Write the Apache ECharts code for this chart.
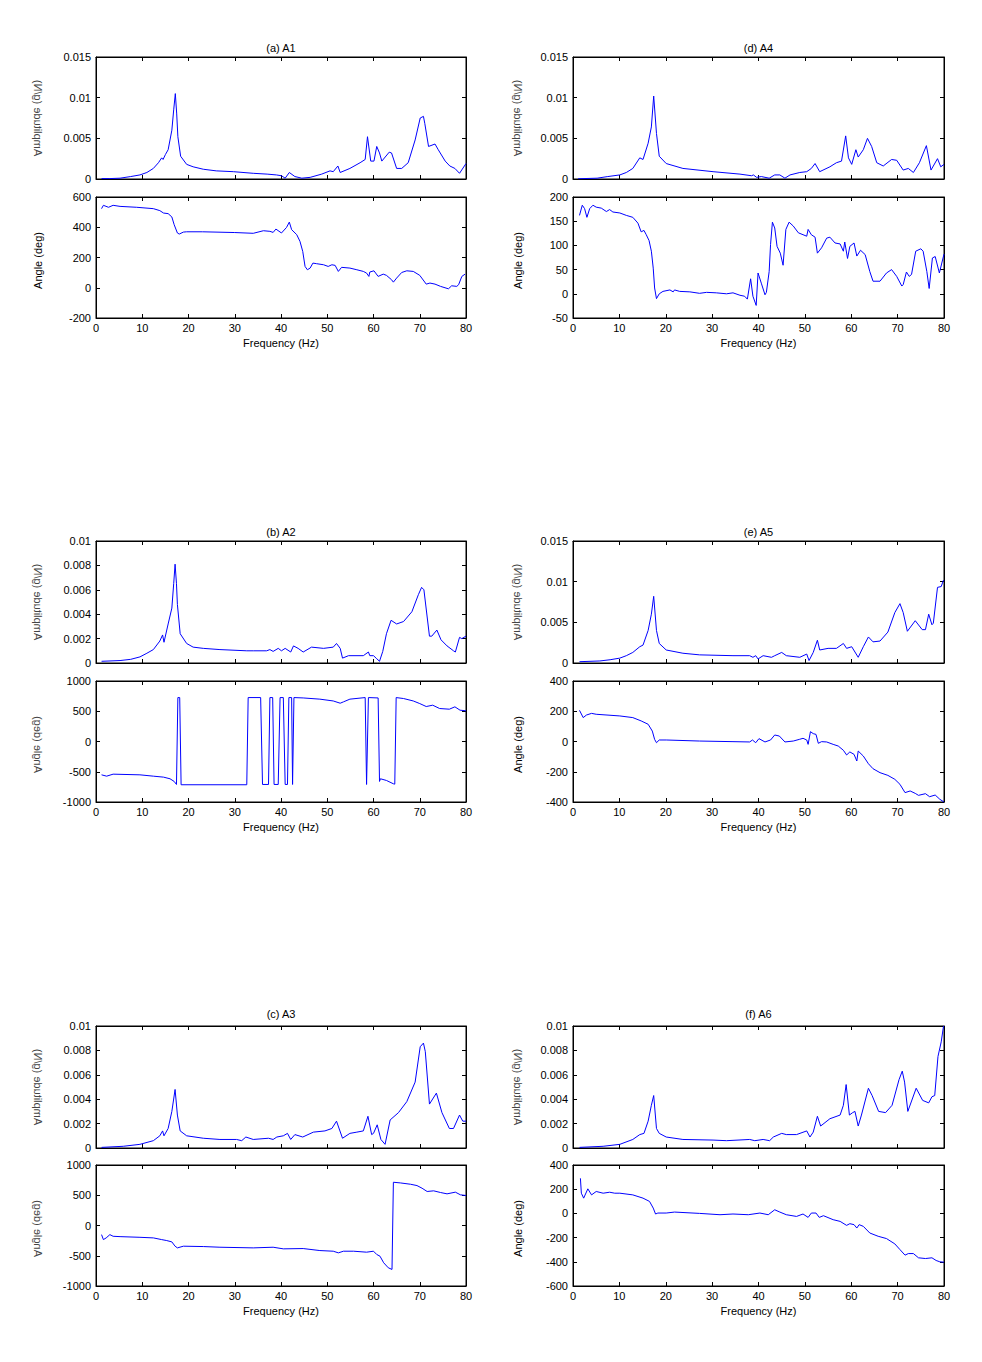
<!DOCTYPE html>
<html><head><meta charset="utf-8">
<script src="https://cdn.jsdelivr.net/npm/echarts@6/dist/echarts.min.js"></script>
<style>html,body{margin:0;padding:0;background:#fff}#c{width:982px;height:1362px}</style>
</head><body><div id="c"></div>
<script>
// ---------- data (frequency Hz, value) ----------
const freqTicks = [0, 80, 10];
const titles = ['(a) A1', '(d) A4', '(b) A2', '(e) A5', '(c) A3', '(f) A6'];
const ampTicks = [[0, 0.015, 0.005], [0, 0.015, 0.005], [0, 0.01, 0.002], [0, 0.015, 0.005], [0, 0.01, 0.002], [0, 0.01, 0.002]];
const angTicks = [[-200, 600, 200], [-50, 200, 50], [-1000, 1000, 500], [-400, 400, 200], [-1000, 1000, 500], [-600, 400, 200]];

const a1Amp = [[1.2,0.00005],[3,0.00005],[5.2,0.0001],[7.5,0.0003],[9.5,0.0005],[11,0.0008],[12.4,0.0013],[13.5,0.002],[14.2,0.0026],[14.5,0.0024],[15,0.003],[15.6,0.0036],[16.4,0.006],[16.8,0.0085],[17.15,0.0105],[17.45,0.008],[17.7,0.0052],[18.3,0.0028],[19.6,0.0018],[21,0.0015],[23.2,0.0012],[26,0.001],[29.7,0.0009],[34,0.0007],[37,0.0006],[39,0.0005],[40.1,0.0004],[40.9,0.0001],[41.8,0.0008],[43,0.0003],[44.5,0.0001],[46.3,0.0002],[48.8,0.0006],[50.6,0.001],[51.3,0.0009],[52.3,0.0016],[52.8,0.0008],[54.9,0.0013],[57.1,0.002],[58.2,0.0024],[58.7,0.0052],[59.4,0.0022],[60.1,0.0022],[60.7,0.004],[61.3,0.0032],[61.8,0.0022],[63.4,0.0033],[63.9,0.0032],[65,0.0013],[66.1,0.0013],[67.5,0.002],[69,0.0048],[70.1,0.0075],[70.8,0.0077],[71.1,0.0068],[71.9,0.004],[73.3,0.0043],[74,0.0036],[75.5,0.0022],[76.5,0.0016],[77.6,0.0013],[78.6,0.0007],[80,0.0019]];
const a1Ang = [[1.2,523],[1.6,545],[2.7,532],[3.7,545],[5.2,538],[8.8,532],[12.4,523],[13.8,510],[14.6,494],[15.6,490],[16.4,468],[16.9,417],[17.6,362],[18,355],[18.9,368],[19.6,370],[23,370],[30,365],[34,360],[36.2,377],[37.6,373],[38.3,366],[38.9,388],[40.1,362],[41.2,399],[41.8,434],[42.3,384],[43.4,351],[44.1,307],[44.7,240],[45.2,141],[45.7,119],[46.3,130],[46.9,163],[47.7,159],[49.2,152],[50.2,141],[51,152],[51.7,148],[52.4,108],[53.1,135],[54.9,130],[56.4,119],[57.8,108],[58.5,97],[59,75],[59.2,104],[60.1,112],[61,75],[62.1,90],[62.8,82],[63.9,53],[64.3,37],[65,64],[66.1,101],[67.2,112],[68.6,108],[70,82],[71.4,24],[72.2,31],[73.3,24],[74.5,9],[76.2,-7],[76.9,13],[78,9],[78.4,20],[79.1,75],[79.8,90]];

const a4Amp = [[1.1,0.00003],[5.2,0.0001],[7.5,0.0003],[10.1,0.0005],[11.5,0.0008],[12.9,0.0013],[14.4,0.0026],[15.1,0.0024],[16.2,0.0044],[16.9,0.0064],[17.4,0.0102],[18,0.0056],[18.6,0.0028],[20.1,0.0019],[23.7,0.0013],[30.2,0.0009],[36,0.0006],[38.5,0.0004],[38.9,0.0005],[39.6,0.0002],[40.6,0.0003],[42.3,0.0001],[43.5,0.0005],[44.6,0.0005],[45.7,0.0001],[46.8,0.0005],[48.9,0.0008],[50.4,0.0009],[51.4,0.0013],[52.2,0.0019],[53.2,0.0009],[55.4,0.0015],[56.8,0.002],[57.9,0.0022],[58.8,0.0053],[59.4,0.0026],[60.1,0.0018],[61,0.0036],[61.5,0.0027],[62.6,0.0036],[63.5,0.005],[64.4,0.004],[65.5,0.002],[66.9,0.0016],[68.7,0.0024],[69.8,0.0023],[71.2,0.0011],[72.3,0.0013],[73.4,0.0008],[74.7,0.002],[76.2,0.0041],[77.2,0.0011],[78.6,0.0025],[79.3,0.0015],[80,0.0018]];
const a4Ang = [[1.4,162],[2,183],[2.5,176],[3,158],[3.6,176],[4.3,183],[5,179],[6.1,177],[7.2,170],[7.9,174],[8.6,169],[10.1,167],[11.5,162],[12.9,158],[14,146],[14.7,128],[15.3,131],[15.8,122],[16.4,110],[16.9,88],[17.3,53],[17.6,12],[18,-10],[18.6,0],[19.4,5],[20.9,8],[21.6,4],[21.9,8],[23,5],[25.2,4],[27.3,1],[28.8,3],[30.9,2],[33.1,0],[34.5,2],[36,-3],[37,-5],[37.6,-11],[38.3,31],[38.8,-5],[39.5,-24],[39.9,43],[40.6,22],[41.4,-2],[41.7,3],[42.3,46],[42.6,102],[43,148],[43.5,136],[44,98],[44.7,84],[45.3,59],[45.9,133],[46.6,148],[47.5,140],[48.6,126],[50.4,119],[50.7,133],[51.4,122],[52.2,117],[52.7,84],[53.6,95],[54.7,115],[55.4,117],[56.5,105],[57.6,103],[58.3,88],[58.6,107],[59.2,73],[59.7,98],[60.6,105],[61.2,78],[62,90],[63,81],[64,46],[64.7,26],[66.2,26],[67.6,43],[68.7,50],[69.8,36],[70.9,16],[71.2,19],[71.9,45],[72.5,36],[73,40],[73.9,88],[75,93],[75.5,88],[76.3,46],[76.8,11],[77.5,74],[78.1,77],[79,43],[80,82]];

const a2Amp = [[1.2,0.00014],[5.2,0.0002],[7.5,0.0003],[9.5,0.0005],[11,0.0008],[12.4,0.0011],[13.8,0.0018],[14.4,0.0023],[14.7,0.0017],[15.6,0.0032],[16.4,0.0045],[16.8,0.0065],[17.1,0.0081],[17.4,0.0065],[17.6,0.0048],[18.2,0.0024],[19.6,0.0016],[21,0.0013],[23.2,0.0012],[26.8,0.0011],[32.6,0.001],[34,0.001],[36.9,0.001],[37.6,0.0011],[38.3,0.00095],[39.4,0.0012],[40.1,0.001],[40.9,0.0012],[42.1,0.0009],[42.7,0.0014],[43.7,0.0012],[44.8,0.0009],[46.6,0.0013],[49.2,0.0012],[51.3,0.0013],[52,0.0016],[52.8,0.0012],[53.3,0.0004],[54.6,0.0006],[57.8,0.0006],[58.9,0.0009],[59.2,0.0006],[60,0.0006],[60.7,0.00035],[61.3,0.00014],[62,0.00095],[62.8,0.0024],[63.8,0.0035],[65,0.0032],[66.5,0.0034],[68.3,0.0042],[69.7,0.0056],[70.4,0.0062],[70.9,0.006],[72.1,0.0022],[72.6,0.0022],[73.7,0.0027],[74.6,0.0019],[75.9,0.0014],[77.3,0.001],[77.7,0.0009],[78.6,0.0021],[79.1,0.002],[80,0.0022]];
const a2Ang = [[1.2,-551],[2.3,-573],[3.7,-540],[9.5,-551],[12.4,-573],[14.6,-589],[16,-616],[16.9,-660],[17.4,-710],[17.7,726],[18.1,726],[18.4,-715],[32.6,-715],[32.9,726],[35.6,726],[36,-710],[37.3,-710],[37.6,726],[38.2,726],[38.5,-710],[39.4,-710],[39.8,726],[40.5,726],[40.9,-710],[41.4,-710],[41.7,726],[42.3,726],[42.5,-710],[42.8,726],[44.8,720],[48.4,700],[51.3,670],[52.8,633],[53.5,655],[54.9,700],[58.2,726],[58.5,-710],[58.9,726],[61,720],[61.3,-660],[61.5,-616],[62.8,-644],[64.3,-699],[64.6,-705],[64.9,726],[66.5,710],[68.6,670],[70,627],[71.4,578],[72.8,600],[74.3,545],[76.4,534],[77.6,573],[78.7,518],[80,507]];

const a5Amp = [[1.4,0.00016],[5.8,0.00025],[8,0.0004],[10.1,0.0006],[11.5,0.0009],[12.9,0.0013],[14.4,0.002],[15.1,0.0022],[16.2,0.004],[16.9,0.006],[17.4,0.0082],[18,0.004],[18.6,0.0024],[20.1,0.0016],[23.7,0.0012],[27.3,0.001],[34.5,0.0009],[38.1,0.0009],[38.8,0.0007],[39.4,0.0009],[39.9,0.0005],[41,0.0009],[42.8,0.0007],[43.5,0.0009],[45,0.0013],[46,0.0009],[48.9,0.0007],[50.4,0.0011],[50.9,0.0003],[51.8,0.0013],[52.7,0.0028],[53.2,0.0016],[55,0.0018],[56.8,0.0018],[58.3,0.0024],[59,0.0018],[60.1,0.002],[61.5,0.0007],[62.6,0.002],[63.7,0.0032],[64.7,0.0026],[66.2,0.0027],[67.9,0.0038],[69.4,0.0062],[70.5,0.0073],[71.2,0.0062],[72.1,0.0039],[73.8,0.0052],[75.3,0.0041],[76,0.0041],[76.7,0.006],[77.4,0.0047],[77.7,0.0049],[78.6,0.0093],[79.4,0.0094],[79.9,0.0102]];
const a5Ang = [[1.4,206],[2.2,158],[2.9,175],[4,186],[5,180],[10.1,169],[12.9,158],[14.7,136],[16.2,114],[17.1,69],[17.6,14],[18,-8],[18.6,10],[20.1,10],[27.3,3],[34.5,-1],[38.1,-3],[38.7,10],[39.4,-8],[40.1,19],[41.4,-3],[42.6,10],[43.5,43],[44.5,36],[45.7,-3],[47.5,3],[48.8,14],[49.6,21],[50.4,10],[50.7,-19],[51.2,65],[51.8,52],[52.4,47],[52.9,-12],[53.6,-1],[54.7,-3],[56.1,-19],[57.2,-30],[58.3,-58],[59,-89],[59.7,-69],[60.6,-85],[61.2,-129],[61.5,-63],[62.6,-96],[63.7,-147],[64.7,-180],[66.2,-206],[67.9,-224],[69.4,-250],[70.5,-283],[71.6,-338],[72.7,-327],[73.8,-343],[74.5,-356],[76,-345],[76.9,-365],[78.1,-354],[79.1,-382],[80,-400]];

const a3Amp = [[1.2,0.00005],[5.9,0.00014],[9.5,0.0003],[12.4,0.0006],[13.8,0.001],[14.4,0.0014],[14.7,0.001],[15.6,0.0016],[16.4,0.003],[17.1,0.0048],[17.6,0.0027],[18.2,0.0014],[19.6,0.001],[23.2,0.0008],[26.8,0.0007],[30.4,0.0007],[31.5,0.0006],[32.4,0.0009],[34,0.0007],[37.3,0.0008],[38.3,0.0007],[39.1,0.0009],[40.5,0.001],[41.4,0.0012],[42.1,0.0007],[43,0.0011],[44.7,0.0009],[47,0.0013],[49.5,0.0014],[51,0.0016],[52,0.0022],[53.3,0.0008],[54.9,0.0012],[56.4,0.0013],[57.8,0.0014],[58.8,0.0026],[59.6,0.0011],[60,0.0012],[60.8,0.0019],[61.6,0.0007],[62.5,0.0003],[63.6,0.0023],[65.4,0.0029],[67.2,0.0038],[69,0.0054],[70.1,0.0083],[70.8,0.0086],[71.2,0.0079],[72.1,0.0036],[73.6,0.0045],[74.8,0.0029],[76.4,0.0016],[77.3,0.0016],[78.6,0.0027],[79.3,0.0022],[80,0.0022]];
const a3Ang = [[1.2,-151],[1.6,-233],[2.2,-205],[3,-151],[3.7,-178],[5.2,-184],[9.5,-195],[12.4,-205],[14.2,-233],[15.3,-249],[16.4,-271],[17.1,-342],[17.6,-370],[18.9,-342],[23.2,-348],[26.8,-359],[34,-370],[38.3,-359],[40.5,-386],[44.8,-381],[48.4,-414],[51.3,-425],[52.4,-452],[53.5,-425],[55.7,-425],[58.5,-441],[60,-425],[60.7,-479],[61.4,-507],[62.2,-616],[63.2,-699],[64,-726],[64.3,715],[65.8,704],[68,682],[69.4,660],[70.5,616],[71.6,562],[73,573],[74.5,545],[75.9,523],[77.7,551],[78.8,507],[80,496]];

const a6Amp = [[1.4,0.00005],[6.5,0.00014],[10.1,0.0003],[12.9,0.0007],[14.4,0.0011],[15.3,0.0012],[16.2,0.0022],[16.9,0.0035],[17.4,0.0043],[18,0.0016],[18.6,0.0012],[20.1,0.0009],[23.7,0.0007],[30.2,0.00065],[33.1,0.0006],[38.1,0.0007],[39.2,0.0006],[41,0.0007],[42.4,0.0006],[43.2,0.0009],[45,0.0012],[46,0.0011],[48.2,0.0011],[50.4,0.0014],[51.1,0.0009],[51.8,0.0013],[52.7,0.0026],[53.4,0.0018],[55.4,0.0024],[57.6,0.0027],[58.3,0.0035],[58.9,0.0052],[59.6,0.0027],[60.3,0.0029],[60.8,0.003],[61.5,0.0018],[62.2,0.0027],[63.7,0.0049],[64.5,0.0043],[65.9,0.003],[67.4,0.0029],[68.8,0.0035],[70.3,0.0056],[71,0.0063],[71.5,0.0054],[72.2,0.003],[74,0.0049],[75.4,0.0039],[76.7,0.0037],[77.4,0.0042],[78,0.0043],[78.7,0.0075],[79.4,0.0087],[79.9,0.01]];
const a6Ang = [[1.6,290],[1.8,167],[2.3,126],[3.2,203],[4,153],[5,181],[6.5,167],[7.9,175],[9,167],[10.1,167],[12.9,153],[15.1,126],[16.5,99],[17.3,44],[17.8,-5],[18.3,3],[20.1,3],[21.9,11],[27.3,0],[31.7,-11],[34.5,-5],[37.8,-11],[40.3,3],[42.1,-11],[43.5,30],[44.6,11],[46,-11],[48.2,-25],[49.6,-5],[50.7,-33],[51.4,3],[52.4,3],[53.1,-33],[54,-19],[56.1,-52],[57.6,-66],[59,-99],[59.7,-85],[60.6,-93],[61.2,-121],[61.7,-93],[62.6,-107],[64,-162],[65.8,-189],[67.6,-208],[69.4,-252],[70.5,-299],[71.6,-345],[72.3,-332],[73.4,-332],[74.5,-367],[76,-373],[77.4,-367],[78.3,-389],[79.1,-400],[80,-403]];

const ampSeries = [a1Amp, a4Amp, a2Amp, a5Amp, a3Amp, a6Amp];
const angSeries = [a1Ang, a4Ang, a2Ang, a5Ang, a3Ang, a6Ang];
const ampLabel = 'Amplitude (g/N)';
const angLabel = 'Angle (deg)';
const xLabel = 'Frequency (Hz)';

// ---------- layout ----------
const FONT = '"Liberation Sans", Arial, Helvetica, sans-serif';
const colLeft = [96, 573], colW = [370, 371];
const ampTop = [57, 541, 1026], angTop = [197, 681, 1165];
const ampH = 122, angH = 121;
const titleY = [48, 532, 1014], xNameY = [343, 827, 1311];
const yNameX = [38, 518];
// which y-labels are drawn mirrored (as in the source figure)
const ampMirror = [true, true, true, true, true, true];
const angMirror = [false, false, true, false, true, false];

const fmt = v => String(+(+v).toFixed(6));
const grid = [], xAxis = [], yAxis = [], series = [], graphic = [];
const txtStyle = (t, extra) => Object.assign({text: t, fill: '#000', font: '11px ' + FONT,
  align: 'center', verticalAlign: 'middle', textAlign: 'center', textVerticalAlign: 'middle'}, extra || {});

function addPlot(left, top, w, h, range, data, showX) {
  const gi = grid.length;
  grid.push({left: left, top: top, width: w, height: h, show: true, borderColor: '#000', borderWidth: 1, backgroundColor: '#fff'});
  const common = {gridIndex: gi, splitLine: {show: false},
    axisLine: {show: true, onZero: false, lineStyle: {color: '#000', width: 1}},
    axisTick: {show: true, inside: true, length: 4, lineStyle: {color: '#000'}}};
  xAxis.push(Object.assign({}, common, {type: 'value', position: 'bottom', min: freqTicks[0], max: freqTicks[1], interval: freqTicks[2],
    axisLabel: {show: showX, color: '#000', fontSize: 11, fontFamily: FONT, margin: 4}}));
  xAxis.push(Object.assign({}, common, {type: 'value', position: 'top', min: freqTicks[0], max: freqTicks[1], interval: freqTicks[2],
    axisLabel: {show: false}}));
  yAxis.push(Object.assign({}, common, {type: 'value', position: 'left', min: range[0], max: range[1], interval: range[2],
    axisLabel: {show: true, color: '#000', fontSize: 11, fontFamily: FONT, margin: 5, formatter: fmt}}));
  yAxis.push(Object.assign({}, common, {type: 'value', position: 'right', min: range[0], max: range[1], interval: range[2],
    axisLabel: {show: false}}));
  series.push({type: 'line', xAxisIndex: 2 * gi, yAxisIndex: 2 * gi, data: data, showSymbol: false, symbol: 'none',
    lineStyle: {color: '#0000ff', width: 1}, animation: false, silent: true});
}

function yName(text, x, y, mirrored) {
  graphic.push({type: 'text', x: x, y: y, rotation: Math.PI / 2, scaleY: mirrored ? -1 : 1,
    style: txtStyle(text, mirrored ? {fill: '#444'} : {}), z: 10});
}

for (let p = 0; p < 6; p++) {
  const col = p % 2, row = Math.floor(p / 2);
  addPlot(colLeft[col], ampTop[row], colW[col], ampH, ampTicks[p], ampSeries[p], false);
  addPlot(colLeft[col], angTop[row], colW[col], angH, angTicks[p], angSeries[p], true);
  const cx = colLeft[col] + colW[col] / 2;
  graphic.push({type: 'text', x: cx, y: titleY[row], style: txtStyle(titles[p]), z: 10});
  graphic.push({type: 'text', x: cx, y: xNameY[row], style: txtStyle(xLabel), z: 10});
  yName(ampLabel, yNameX[col], ampTop[row] + ampH / 2, ampMirror[p]);
  yName(angLabel, yNameX[col], angTop[row] + angH / 2 + 3, angMirror[p]);
}

const chart = echarts.init(document.getElementById('c'), null, {renderer: 'svg'});
chart.setOption({backgroundColor: '#fff', animation: false, grid, xAxis, yAxis, series, graphic});
</script>
</body></html>
